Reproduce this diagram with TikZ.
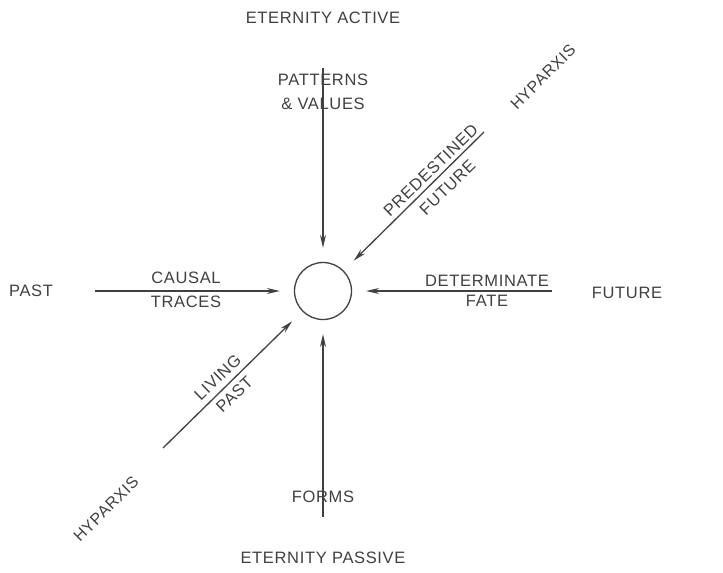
\documentclass[tikz,border=0pt]{standalone}
\usepackage{fontspec}
\setsansfont{Liberation Sans}[LetterSpace=4]
\usetikzlibrary{arrows.meta}

\begin{document}
\begin{tikzpicture}[x=1pt,y=-1pt,
    lbl/.style={font=\sffamily\fontsize{16.5}{24}\selectfont, text=black!75, align=center, inner sep=0pt},
    hyp/.style={lbl, font=\sffamily\fontsize{16}{18}\selectfont, rotate=45},
    arr/.style={draw=black!75, line width=1.3pt, shorten >=14pt, -{Stealth[length=13pt,width=6pt]}}]
    \useasboundingbox (0,0) rectangle (723,573);
    \node[circle, draw=black!75, line width=1.3pt, minimum size=57pt, inner sep=0pt] (ctr) at (323,291) {};
    \coordinate (top) at (323,68);
    \coordinate (bot) at (323,517);
    \coordinate (lft) at (95,291);
    \coordinate (rgt) at (552,291);
    \coordinate (ur) at (484,132);
    \coordinate (ll) at (163,448);
    \node[lbl] (eact) at (323,18) {ETERNITY ACTIVE};
    \node[lbl] (epas) at (323,558) {ETERNITY PASSIVE};
    \node[lbl] (past) at (31,291) {PAST};
    \node[lbl] (fut) at (627,293) {FUTURE};
    \node[lbl] (patt) at (323,92) {PATTERNS\\\& VALUES};
    \node[lbl] (forms) at (323,497) {FORMS};
    \node[lbl] (caus) at (186,278) {CAUSAL};
    \node[lbl] (trac) at (186,302) {TRACES};
    \node[lbl] (det) at (487,281) {DETERMINATE};
    \node[lbl] (fate) at (487,301) {FATE};
    \node[lbl, rotate=44] (pred) at (439,179) {PREDESTINED\\FUTURE};
    \node[lbl, rotate=44] (liv) at (226,386) {LIVING\\PAST};
    \node[hyp] (hyp1) at (543,77) {HYPARXIS};
    \node[hyp] (hyp2) at (106,509) {HYPARXIS};
    \draw[arr] (top) -- (ctr);
    \draw[arr] (bot) -- (ctr);
    \draw[arr] (lft) -- (ctr);
    \draw[arr] (rgt) -- (ctr);
    \draw[arr] (ur) -- (ctr);
    \draw[arr] (ll) -- (ctr);
\end{tikzpicture}
\end{document}
